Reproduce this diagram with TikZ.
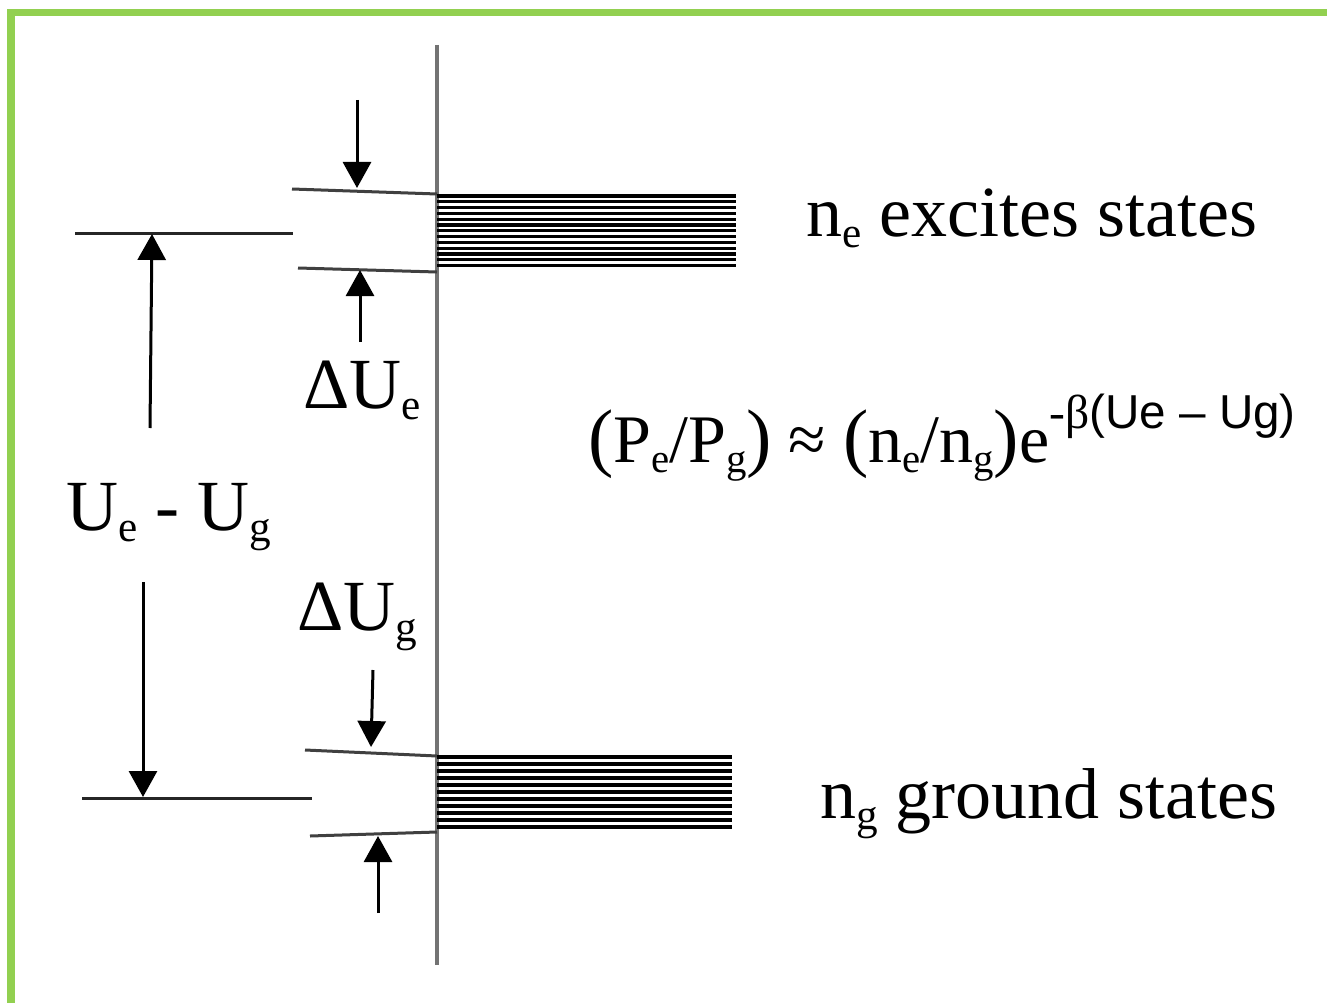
\documentclass[tikz,border=0pt]{standalone}
\usepackage{fontspec}
\setmainfont{Liberation Serif}
\newfontfamily\supfont{Liberation Sans}
\usetikzlibrary{arrows.meta}
\definecolor{frame}{HTML}{92D050}
\newcommand{\sbs}[1]{\raisebox{-0.16em}{\scalebox{0.6}{#1}}}
\newcommand{\bigpar}[1]{{\fontsize{76}{76}\selectfont #1}}
\tikzset{
  axisline/.style={draw=black!55,line width=3.5pt},
  levelline/.style={draw=black!75,line width=3pt},
  hatch/.style={draw=black,line width=3.2pt},
  darrow/.style={draw=black,line width=3pt,-{Triangle[length=26pt,width=28pt]}},
  reflline/.style={draw=black!85,line width=3pt},
  lbl/.style={anchor=base west,inner sep=0pt,font=\fontsize{72}{84}\selectfont}
}
\begin{document}
\begin{tikzpicture}[x=1pt,y=-1pt]
\useasboundingbox (0,0) rectangle (1327,1003);
\fill[white] (0,0) rectangle (1327,1003);
% frame
\fill[frame] (7,9) rectangle (1327,16);
\fill[frame] (7,9) rectangle (15,1003);
% axis
\coordinate (axT) at (437,45);
\coordinate (axB) at (437,965);
\draw[axisline] (axT) -- (axB);
% excited level
\coordinate (eTL) at (292,189); \coordinate (eTR) at (437,194);
\coordinate (eBL) at (298,268); \coordinate (eBR) at (437,272);
\draw[levelline] (eTL) -- (eTR);
\draw[levelline] (eBL) -- (eBR);
\foreach \i in {0,...,12}{
  \draw[hatch] (437,{196+\i*5.8}) -- (736,{196+\i*5.8});
}
% ground level
\coordinate (gTL) at (305,750); \coordinate (gTR) at (437,756);
\coordinate (gBL) at (310,836); \coordinate (gBR) at (437,832);
\draw[levelline] (gTL) -- (gTR);
\draw[levelline] (gBL) -- (gBR);
\foreach \i in {0,...,10}{
  \draw[hatch] (437,{757+\i*7.0}) -- (732,{757+\i*7.0});
}
% small arrows
\coordinate (a1s) at (357,100); \coordinate (a1e) at (357,188);
\coordinate (a2s) at (360,342); \coordinate (a2e) at (360,270);
\coordinate (a3s) at (373,670); \coordinate (a3e) at (371,747);
\coordinate (a4s) at (378,913); \coordinate (a4e) at (378,836);
\draw[darrow] (a1s) -- (a1e);
\draw[darrow] (a2s) -- (a2e);
\draw[darrow] (a3s) -- (a3e);
\draw[darrow] (a4s) -- (a4e);
% reference lines left
\coordinate (rTL) at (75,233); \coordinate (rTR) at (293,233);
\coordinate (rBL) at (82,798); \coordinate (rBR) at (312,798);
\draw[reflline] (rTL) -- (rTR);
\draw[reflline] (rBL) -- (rBR);
\coordinate (b1s) at (150,428); \coordinate (b1e) at (152,234);
\coordinate (b2s) at (143,582); \coordinate (b2e) at (143,797);
\draw[darrow] (b1s) -- (b1e);
\draw[darrow] (b2s) -- (b2e);
% labels
\node[lbl] (dUe) at (303,408) {ΔU\sbs{e}};
\node[lbl] (dUg) at (297,630) {ΔU\sbs{g}};
\node[lbl] (UeUg) at (66,530) {U\sbs{e} - U\sbs{g}};
\node[lbl] (exc) at (806,236) {n\sbs{e} excites states};
\node[lbl] (gnd) at (820,818) {n\sbs{g} ground states};
\node[lbl,font=\fontsize{68}{70}\selectfont] (form) at (588,462)
  {\bigpar{(}P\sbs{e}/P\sbs{g}\bigpar{)} ≈ \bigpar{(}n\sbs{e}/n\sbs{g}\bigpar{)}e\raisebox{0.5em}{\scalebox{0.7}{-β{\supfont(Ue – Ug)}}}};
\end{tikzpicture}
\end{document}
